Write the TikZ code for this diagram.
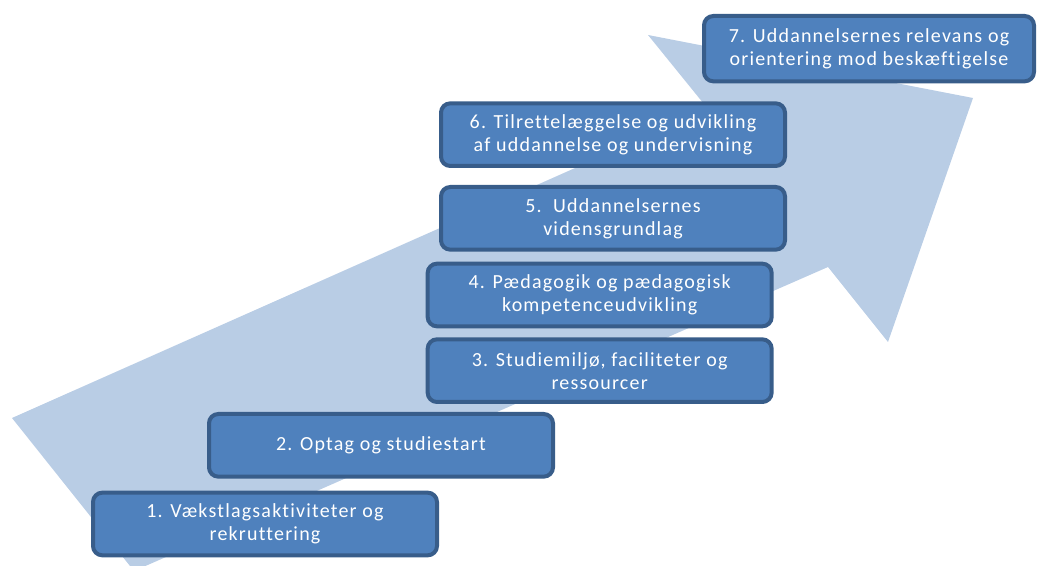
\documentclass[tikz,border=0pt]{standalone}
\usepackage{fontspec}
\setmainfont{Carlito}[LetterSpace=6, Ligatures=NoCommon]
\usepackage{xcolor}
\usepackage{tikz}
\usetikzlibrary{positioning}

\definecolor{arrowblue}{HTML}{B9CDE5}
\definecolor{boxblue}{HTML}{4F81BD}
\definecolor{boxedge}{HTML}{385D8A}

\begin{document}
\begin{tikzpicture}[
    x=0.75pt, y=-0.75pt,
    stepbox/.style={rectangle, rounded corners=7pt, minimum width=258pt, minimum height=47pt, align=center, draw=boxedge, line width=3pt, fill=boxblue, text=white, font=\fontsize{15}{17.25}\selectfont},
    bigarrow/.style={fill=arrowblue}
]
\useasboundingbox (0,0) rectangle (1040,566);

% Background arrow
\fill [bigarrow] (12,418) -- (708,109) -- (648,35) -- (973,98) -- (888,342) -- (828,267) -- (134,571) -- cycle;

% Steps
\node (s1) [stepbox] at (265,524) {1. Vækstlagsaktiviteter og\\rekruttering};
\node (s2) [stepbox, above=9pt of s1, xshift=87pt] {2. Optag og studiestart};
\node (s3) [stepbox, above=6pt of s2, xshift=164pt] {3. Studiemiljø, faciliteter og\\ressourcer};
\node (s4) [stepbox, above=6.75pt of s3] {4. Pædagogik og pædagogisk\\kompetenceudvikling};
\node (s5) [stepbox, above=7.5pt of s4, xshift=10pt] {5.\ \ Uddannelsernes\\vidensgrundlag};
\node (s6) [stepbox, above=12.75pt of s5] {6. Tilrettelæggelse og udvikling\\af uddannelse og undervisning};
\node (s7) [stepbox, above=13.5pt of s6, xshift=192pt, minimum width=247.5pt, minimum height=49pt] {7. Uddannelsernes relevans og\\orientering mod beskæftigelse};

\end{tikzpicture}
\end{document}
